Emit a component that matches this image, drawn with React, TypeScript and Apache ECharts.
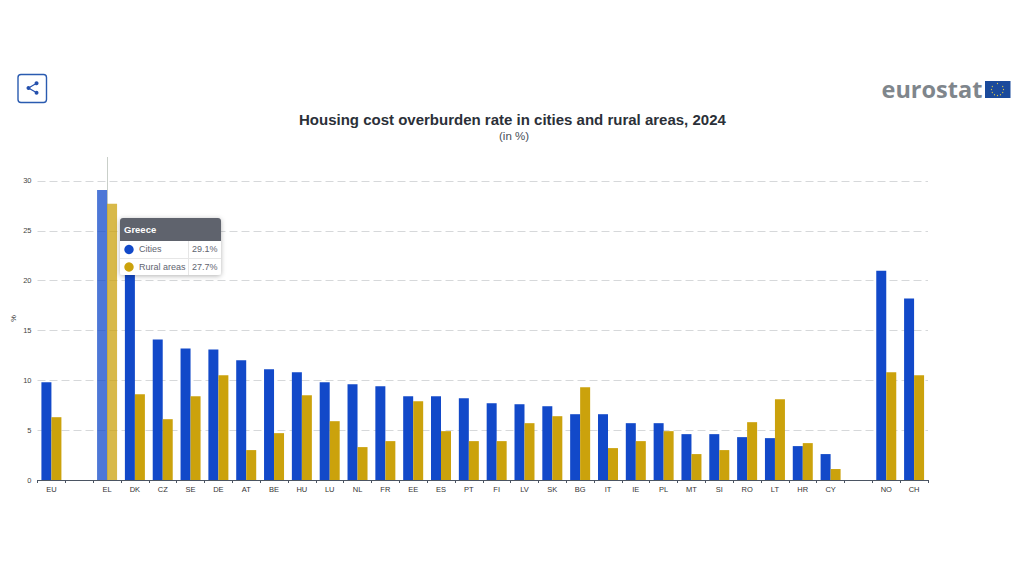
import React, { useEffect, useRef } from "react";
import * as echarts from "echarts";

const categories = ["EU","","EL","DK","CZ","SE","DE","AT","BE","HU","LU","NL","FR","EE","ES","PT","FI","LV","SK","BG","IT","IE","PL","MT","SI","RO","LT","HR","CY"," ","NO","CH"];
const cities = [9.8,null,29.1,21.0,14.1,13.2,13.1,12.0,11.1,10.8,9.8,9.6,9.4,8.4,8.4,8.2,7.7,7.6,7.4,6.6,6.6,5.7,5.7,4.6,4.6,4.3,4.2,3.4,2.6,null,21.0,18.2];
const rural = [6.3,null,27.7,8.6,6.1,8.4,10.5,3.0,4.7,8.5,5.9,3.3,3.9,7.9,4.9,3.9,3.9,5.7,6.4,9.3,3.2,3.9,4.9,2.6,3.0,5.8,8.1,3.7,1.1,null,10.8,10.5];
const highlighted = "EL";
const BLUE = "#1249c9";
const GOLD = "#cba20c";
const FONT = "Arial, 'Liberation Sans', sans-serif";

const shareD = "M18 16.08c-.76 0-1.44.3-1.96.77L8.91 12.7c.05-.23.09-.46.09-.7s-.04-.47-.09-.7l7.05-4.11c.54.5 1.25.81 2.04.81 1.66 0 3-1.34 3-3s-1.34-3-3-3-3 1.34-3 3c0 .24.04.47.09.7L8.04 9.81C7.5 9.31 6.79 9 6 9c-1.66 0-3 1.34-3 3s1.34 3 3 3c.79 0 1.5-.31 2.04-.81l7.12 4.16c-.05.21-.08.43-.08.65 0 1.61 1.31 2.92 2.92 2.92s2.92-1.31 2.92-2.92-1.31-2.92-2.92-2.92z";
echarts.graphic.registerShape("shareIcon", echarts.graphic.extendPath(shareD, {}) as any);

function toBars(values: (number | null)[], color: string) {
  return values.map((v, i) => ({
    value: v,
    itemStyle: { color, opacity: categories[i] === highlighted ? 0.75 : 1 },
  }));
}

function stars() {
  const out: any[] = [];
  for (let i = 0; i < 12; i++) {
    const a = (i / 12) * Math.PI * 2;
    out.push({
      type: "circle",
      shape: { cx: 997.5 + Math.cos(a) * 6, cy: 89.5 + Math.sin(a) * 6, r: 0.6 },
      style: { fill: "#d9c64a" },
    });
  }
  return out;
}

function tooltip() {
  const x = 120, y = 218, w = 101, h = 57, z = 200;
  const line = (x1: number, y1: number, x2: number, y2: number) => ({
    type: "line", z, shape: { x1, y1, x2, y2 }, style: { stroke: "#e6e6e6", lineWidth: 1 },
  });
  const label = (tx: number, ty: number, text: string) => ({
    type: "text", z: z + 1, x: tx, y: ty,
    style: { text, fill: "#5f6470", font: `9px ${FONT}`, textVerticalAlign: "middle" },
  });
  return [
    { type: "rect", z, shape: { x, y, width: w, height: h, r: 3 },
      style: { fill: "#fff", shadowBlur: 5, shadowColor: "rgba(0,0,0,0.3)", shadowOffsetY: 1 } },
    { type: "rect", z: z + 1, shape: { x, y, width: w, height: 23, r: [3, 3, 0, 0] }, style: { fill: "#5f636d" } },
    { type: "text", z: z + 2, x: 124, y: 229.5,
      style: { text: "Greece", fill: "#fff", font: `bold 9.5px ${FONT}`, textVerticalAlign: "middle" } },
    line(x, 258.5, x + w, 258.5),
    line(188.5, 241, 188.5, 275),
    { type: "circle", z: z + 1, shape: { cx: 129, cy: 249.5, r: 4.7 }, style: { fill: BLUE } },
    { type: "circle", z: z + 1, shape: { cx: 129, cy: 267, r: 4.7 }, style: { fill: GOLD } },
    label(139, 249, "Cities"),
    label(139, 266.5, "Rural areas"),
    label(192, 249, "29.1%"),
    label(192, 266.5, "27.7%"),
  ];
}

export default function App() {
  const ref = useRef<HTMLDivElement>(null);
  useEffect(() => {
    const chart = echarts.init(ref.current!, undefined, { renderer: "svg" });
    chart.setOption({
      animation: false,
      backgroundColor: "#fff",
      title: [
        {
          text: "Housing cost overburden rate in cities and rural areas, 2024",
          left: 299, top: 112,
          textStyle: { fontFamily: FONT, fontSize: 15, fontWeight: "bold", color: "#2b3038" },
          padding: 0,
        },
        {
          text: "(in %)",
          left: 499, top: 130,
          textStyle: { fontFamily: FONT, fontSize: 11.5, fontWeight: "normal", color: "#4a4f58" },
          padding: 0,
        },
      ],
      grid: { left: 37.5, right: 96, top: 157, bottom: 97, outerBoundsMode: "none" },
      xAxis: {
        type: "category", data: categories,
        axisLine: { lineStyle: { color: "#4b5563", width: 1 } },
        axisTick: { show: true, length: 3, lineStyle: { color: "#4b5563" } },
        axisLabel: { interval: 0, fontFamily: FONT, fontSize: 7.5, color: "#333", margin: 5 },
      },
      yAxis: {
        type: "value", min: 0, max: 32.4, interval: 5,
        name: "%", nameLocation: "middle", nameGap: 20.5, nameRotate: 90, nameMoveOverlap: false,
        nameTextStyle: { fontFamily: FONT, fontSize: 7.5, color: "#333" },
        axisLine: { show: false }, axisTick: { show: false },
        axisLabel: { fontFamily: FONT, fontSize: 7.5, color: "#444", margin: 6, showMaxLabel: false },
        splitLine: { showMaxLine: false, lineStyle: { color: "#d6d8da", type: [8, 4], width: 1 } },
      },
      series: [
        { name: "Cities", type: "bar", data: toBars(cities, BLUE), barWidth: 10, barGap: "0%" },
        { name: "Rural areas", type: "bar", data: toBars(rural, GOLD), barWidth: 10 },
        { name: "Pointer", type: "line", data: [], silent: true, z: 1,
          markLine: {
            silent: true, symbol: "none", label: { show: false }, z: 1,
            lineStyle: { color: "#c9cfc9", type: "solid", width: 1 },
            data: [[{ xAxis: highlighted, yAxis: 0 }, { xAxis: highlighted, yAxis: 32.4 }]],
          } },
      ],
      graphic: [
        { type: "rect", shape: { x: 18, y: 74.5, width: 28.5, height: 28, r: 3 },
          style: { fill: "#fff", stroke: "#2a5bb0", lineWidth: 1.4 } },
        { type: "shareIcon", x: 24.5, y: 80, scaleX: 0.67, scaleY: 0.67, style: { fill: "#2450ad" } },
        { type: "text", x: 881.5, y: 89,
          style: { text: "eurostat", fill: "#7f868c", font: `bold 23.5px 'Open Sans', ${FONT}`, textVerticalAlign: "middle" } },
        { type: "rect", shape: { x: 985, y: 81, width: 25.5, height: 17 }, style: { fill: "#1a4a9c" } },
        ...stars(),
        ...tooltip(),
      ],
    });
    return () => chart.dispose();
  }, []);
  return (
    <div
      ref={ref}
      style={{ position: "fixed", left: 0, top: 0, width: 1024, height: 577, background: "#fff" }}
    />
  );
}
